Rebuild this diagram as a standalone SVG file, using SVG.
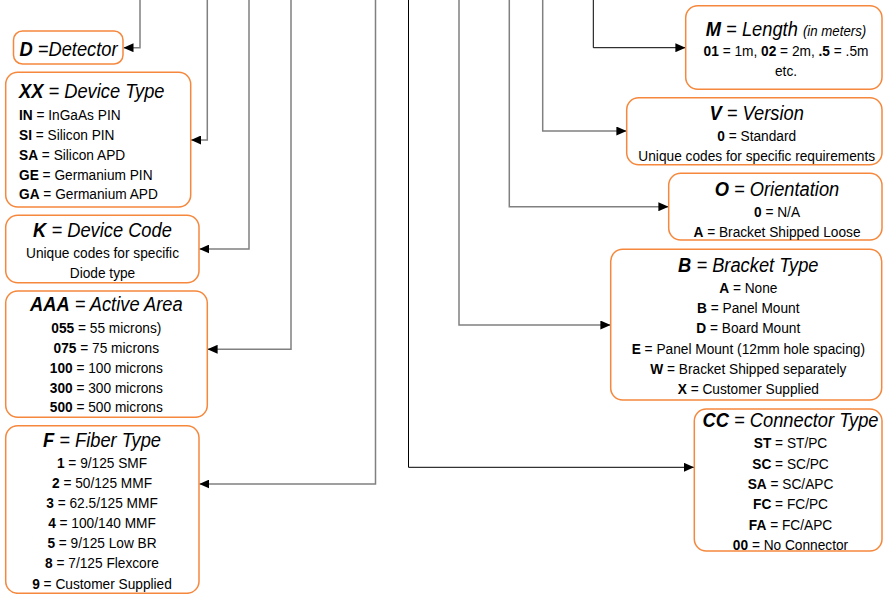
<svg xmlns="http://www.w3.org/2000/svg" width="883" height="594" viewBox="0 0 883 594">
<style>
.box{fill:#fff;stroke:#f5883c;stroke-width:1.5}
text{font-family:"Liberation Sans",Arial,sans-serif;fill:#000}
.ti{font-size:20px;font-style:italic}
.bd{font-size:15.4px}
.sm{font-size:14.5px}
.b{font-weight:bold}
.c{text-anchor:middle}
.g{stroke:#808080;stroke-width:1.5;fill:none}
.k{stroke:#000;stroke-width:1;fill:none}
</style>
<defs>
<marker id="arr" markerWidth="10" markerHeight="9" refX="10" refY="4.5" orient="auto" markerUnits="userSpaceOnUse">
<path d="M0,0 L10,4.5 L0,9 z" fill="#000"/>
</marker>
</defs>
<rect width="883" height="594" fill="#fff"/>
<g id="connectors">
<polyline class="g" points="140,0 140,47.7 123.5,47.7" marker-end="url(#arr)"/>
<polyline class="g" points="207.3,0 207.3,140 191,140" marker-end="url(#arr)"/>
<polyline class="g" points="249,0 249,249 199.3,249" marker-end="url(#arr)"/>
<polyline class="g" points="291,0 291,349.3 207.6,349.3" marker-end="url(#arr)"/>
<polyline class="g" points="375.5,0 375.5,484 199.3,484" marker-end="url(#arr)"/>
<polyline class="k" points="408.5,0 408.5,467.3 694,467.3" marker-end="url(#arr)"/>
<polyline class="g" points="459,0 459,325 610.4,325" marker-end="url(#arr)"/>
<polyline class="g" points="509.3,0 509.3,206.7 668.4,206.7" marker-end="url(#arr)"/>
<polyline class="g" points="542.7,0 542.7,131 626.4,131" marker-end="url(#arr)"/>
<polyline class="k" points="593.3,0 593.3,47.7 685.4,47.7" marker-end="url(#arr)"/>
</g>
<g id="node-D">
<rect class="box" x="13.5" y="31" width="109.5" height="33" rx="9"/>
<text class="ti c" transform="translate(68.5,55.7) scale(0.915,1)"><tspan class="b">D</tspan> =Detector</text>
</g>
<g id="node-XX">
<rect class="box" x="5.7" y="72.3" width="185" height="134.7" rx="12"/>
<text class="ti" transform="translate(19,97.7) scale(0.915,1)"><tspan class="b">XX</tspan> = Device Type</text>
<text class="bd" transform="translate(19,120) scale(0.89,1)"><tspan class="b">IN</tspan> = InGaAs PIN</text>
<text class="bd" transform="translate(19,140) scale(0.89,1)"><tspan class="b">SI</tspan> = Silicon PIN</text>
<text class="bd" transform="translate(19,159.8) scale(0.89,1)"><tspan class="b">SA</tspan> = Silicon APD</text>
<text class="bd" transform="translate(19,179.5) scale(0.89,1)"><tspan class="b">GE</tspan> = Germanium PIN</text>
<text class="bd" transform="translate(19,199.3) scale(0.89,1)"><tspan class="b">GA</tspan> = Germanium APD</text>
</g>
<g id="node-K">
<rect class="box" x="5.7" y="215.3" width="193.3" height="67.4" rx="12"/>
<text class="ti c" transform="translate(102.5,237.3) scale(0.915,1)"><tspan class="b">K</tspan> = Device Code</text>
<text class="bd c" transform="translate(102.5,258.3) scale(0.89,1)">Unique codes for specific</text>
<text class="bd c" transform="translate(102.5,277.7) scale(0.89,1)">Diode type</text>
</g>
<g id="node-AAA">
<rect class="box" x="5.7" y="291" width="201.6" height="126.3" rx="12"/>
<text class="ti c" transform="translate(106.3,311) scale(0.915,1)"><tspan class="b">AAA</tspan> = Active Area</text>
<text class="bd c" transform="translate(106.3,333.3) scale(0.89,1)"><tspan class="b">055</tspan> = 55 microns)</text>
<text class="bd c" transform="translate(106.3,353.3) scale(0.89,1)"><tspan class="b">075</tspan> = 75 microns</text>
<text class="bd c" transform="translate(106.3,372.9) scale(0.89,1)"><tspan class="b">100</tspan> = 100 microns</text>
<text class="bd c" transform="translate(106.3,392.7) scale(0.89,1)"><tspan class="b">300</tspan> = 300 microns</text>
<text class="bd c" transform="translate(106.3,412.3) scale(0.89,1)"><tspan class="b">500</tspan> = 500 microns</text>
</g>
<g id="node-F">
<rect class="box" x="5.7" y="425.7" width="193.3" height="167.6" rx="12"/>
<text class="ti c" transform="translate(102,447.3) scale(0.915,1)"><tspan class="b">F</tspan> = Fiber Type</text>
<text class="bd c" transform="translate(102,468.3) scale(0.89,1)"><tspan class="b">1</tspan> = 9/125 SMF</text>
<text class="bd c" transform="translate(102,488.3) scale(0.89,1)"><tspan class="b">2</tspan> = 50/125 MMF</text>
<text class="bd c" transform="translate(102,508.3) scale(0.89,1)"><tspan class="b">3</tspan> = 62.5/125 MMF</text>
<text class="bd c" transform="translate(102,528.3) scale(0.89,1)"><tspan class="b">4</tspan> = 100/140 MMF</text>
<text class="bd c" transform="translate(102,548.3) scale(0.89,1)"><tspan class="b">5</tspan> = 9/125 Low BR</text>
<text class="bd c" transform="translate(102,568.3) scale(0.89,1)"><tspan class="b">8</tspan> = 7/125 Flexcore</text>
<text class="bd c" transform="translate(102,588.5) scale(0.89,1)"><tspan class="b">9</tspan> = Customer Supplied</text>
</g>
<g id="node-M">
<rect class="box" x="685.7" y="5.7" width="196.3" height="83.6" rx="12"/>
<text class="ti c" transform="translate(786,35.7) scale(0.915,1)"><tspan class="b">M</tspan> = Length <tspan class="sm">(in meters)</tspan></text>
<text class="bd c" transform="translate(786,55.7) scale(0.89,1)"><tspan class="b">01</tspan> = 1m, <tspan class="b">02</tspan> = 2m, <tspan class="b">.5</tspan> = .5m</text>
<text class="bd c" transform="translate(786,76) scale(0.89,1)">etc.</text>
</g>
<g id="node-V">
<rect class="box" x="626.7" y="97.7" width="255.3" height="67" rx="12"/>
<text class="ti c" transform="translate(756.7,120) scale(0.915,1)"><tspan class="b">V</tspan> = Version</text>
<text class="bd c" transform="translate(756.7,140.7) scale(0.89,1)"><tspan class="b">0</tspan> = Standard</text>
<text class="bd c" transform="translate(756.7,160.7) scale(0.89,1)">Unique codes for specific requirements</text>
</g>
<g id="node-O">
<rect class="box" x="668.7" y="173.3" width="213.3" height="66.7" rx="12"/>
<text class="ti c" transform="translate(777,195.7) scale(0.915,1)"><tspan class="b">O</tspan> = Orientation</text>
<text class="bd c" transform="translate(777,216.7) scale(0.89,1)"><tspan class="b">0</tspan> = N/A</text>
<text class="bd c" transform="translate(777,236.7) scale(0.89,1)"><tspan class="b">A</tspan> = Bracket Shipped Loose</text>
</g>
<g id="node-B">
<rect class="box" x="610.7" y="249.3" width="271" height="150.7" rx="12"/>
<text class="ti c" transform="translate(748.3,272.3) scale(0.915,1)"><tspan class="b">B</tspan> = Bracket Type</text>
<text class="bd c" transform="translate(748.3,293.3) scale(0.89,1)"><tspan class="b">A</tspan> = None</text>
<text class="bd c" transform="translate(748.3,313.3) scale(0.89,1)"><tspan class="b">B</tspan> = Panel Mount</text>
<text class="bd c" transform="translate(748.3,333.3) scale(0.89,1)"><tspan class="b">D</tspan> = Board Mount</text>
<text class="bd c" transform="translate(748.3,354) scale(0.89,1)"><tspan class="b">E</tspan> = Panel Mount (12mm hole spacing)</text>
<text class="bd c" transform="translate(748.3,374) scale(0.89,1)"><tspan class="b">W</tspan> = Bracket Shipped separately</text>
<text class="bd c" transform="translate(748.3,394) scale(0.89,1)"><tspan class="b">X</tspan> = Customer Supplied</text>
</g>
<g id="node-CC">
<rect class="box" x="694.3" y="409" width="187.7" height="142" rx="12"/>
<text class="ti c" transform="translate(790.5,426.7) scale(0.915,1)"><tspan class="b">CC</tspan> = Connector Type</text>
<text class="bd c" transform="translate(790.5,448.3) scale(0.89,1)"><tspan class="b">ST</tspan> = ST/PC</text>
<text class="bd c" transform="translate(790.5,468.5) scale(0.89,1)"><tspan class="b">SC</tspan> = SC/PC</text>
<text class="bd c" transform="translate(790.5,489) scale(0.89,1)"><tspan class="b">SA</tspan> = SC/APC</text>
<text class="bd c" transform="translate(790.5,509.3) scale(0.89,1)"><tspan class="b">FC</tspan> = FC/PC</text>
<text class="bd c" transform="translate(790.5,529.7) scale(0.89,1)"><tspan class="b">FA</tspan> = FC/APC</text>
<text class="bd c" transform="translate(790.5,550) scale(0.89,1)"><tspan class="b">00</tspan> = No Connector</text>
</g>
</svg>
